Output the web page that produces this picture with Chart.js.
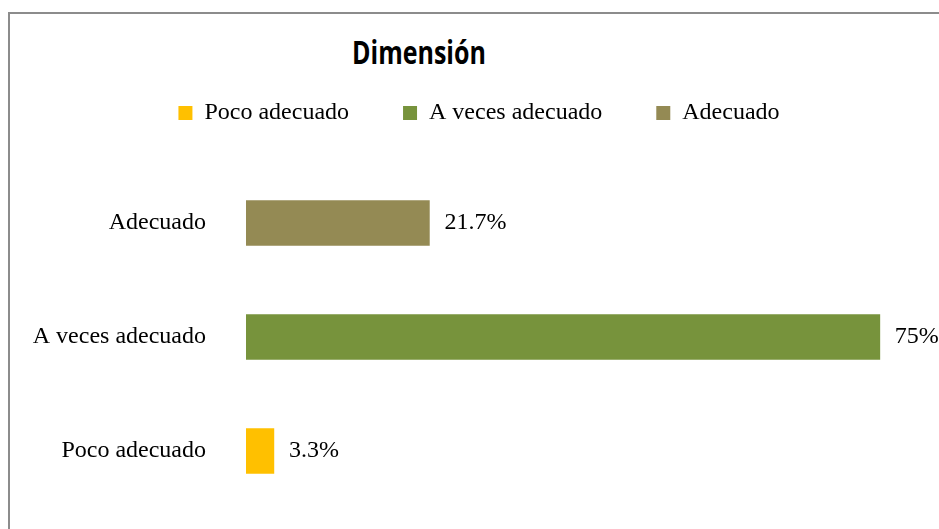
<!DOCTYPE html>
<html>
<head>
<meta charset="utf-8">
<script src="https://cdn.jsdelivr.net/npm/chart.js@4"></script>
<style>
  html, body { margin: 0; padding: 0; background: #fff; overflow: hidden; }
  #wrap { position: relative; width: 939px; height: 529px; }
  #frame { position: absolute; left: 8px; top: 12px; width: 1000px; height: 1000px; border: 2px solid #8c8c8c; }
  #title { position: absolute; left: 0; width: 838px; top: 34px; text-align: center;
           font: bold 25px "Open Sans", sans-serif; color: #000; transform: scaleY(1.25); }
  canvas { position: absolute; left: 0; top: 0; }
</style>
</head>
<body>
<div id="wrap">
  <div id="frame"></div>
  <div id="title">Dimensión</div>
  <canvas id="chart" width="939" height="529"></canvas>
</div>
<script>
// categories (bottom to top, same order as the legend)
const categories = ['Poco adecuado', 'A veces adecuado', 'Adecuado'];
const values = [3.3, 75, 21.7];
const colors = ['#FFC000', '#77933C', '#948A54'];

const serif = { family: '"Liberation Serif", "Times New Roman", serif', size: 24 };

// value labels at the end of each bar
const valueLabels = {
    id: 'valueLabels',
    afterDatasetsDraw(chart) {
        const ctx = chart.ctx;
        ctx.save();
        ctx.font = '24px "Liberation Serif", serif';
        ctx.fillStyle = '#000';
        ctx.textBaseline = 'middle';
        ctx.textAlign = 'left';
        chart.data.datasets.forEach((ds, i) => {
            chart.getDatasetMeta(i).data.forEach((bar, j) => {
                if (ds.data[j] == null) return;
                ctx.fillText(ds.data[j] + '%', bar.x + 15, bar.y);
            });
        });
        ctx.restore();
    }
};

new Chart(document.getElementById('chart'), {
    type: 'bar',
    data: {
        labels: categories,
        datasets: categories.map((c, i) => ({
            label: c,
            data: categories.map((_, j) => (j === i ? values[i] : null)),
            backgroundColor: colors[i],
            grouped: false,
            barThickness: 45
        }))
    },
    options: {
        indexAxis: 'y',
        responsive: false,
        animation: false,
        layout: { padding: { top: 47, bottom: 21, left: 19, right: 0 } },
        plugins: {
            title: { display: false },
            tooltip: { enabled: false },
            legend: {
                position: 'top',
                labels: {
                    boxWidth: 14,
                    boxHeight: 14,
                    padding: 54,
                    color: '#000',
                    font: serif
                }
            }
        },
        scales: {
            x: {
                position: 'top',
                min: 0,
                max: 82,
                grid: { display: false, drawTicks: false },
                border: { display: false },
                ticks: { display: false },
                afterFit: s => { s.height = 31; }
            },
            y: {
                reverse: true,
                grid: { display: false, drawTicks: false },
                border: { display: false },
                ticks: { color: '#000', font: serif, padding: 40 },
                afterFit: s => {
                    s.width = 227;
                    s.paddingTop = 0;
                    s.paddingBottom = 0;
                }
            }
        }
    },
    plugins: [valueLabels]
});
</script>
</body>
</html>
